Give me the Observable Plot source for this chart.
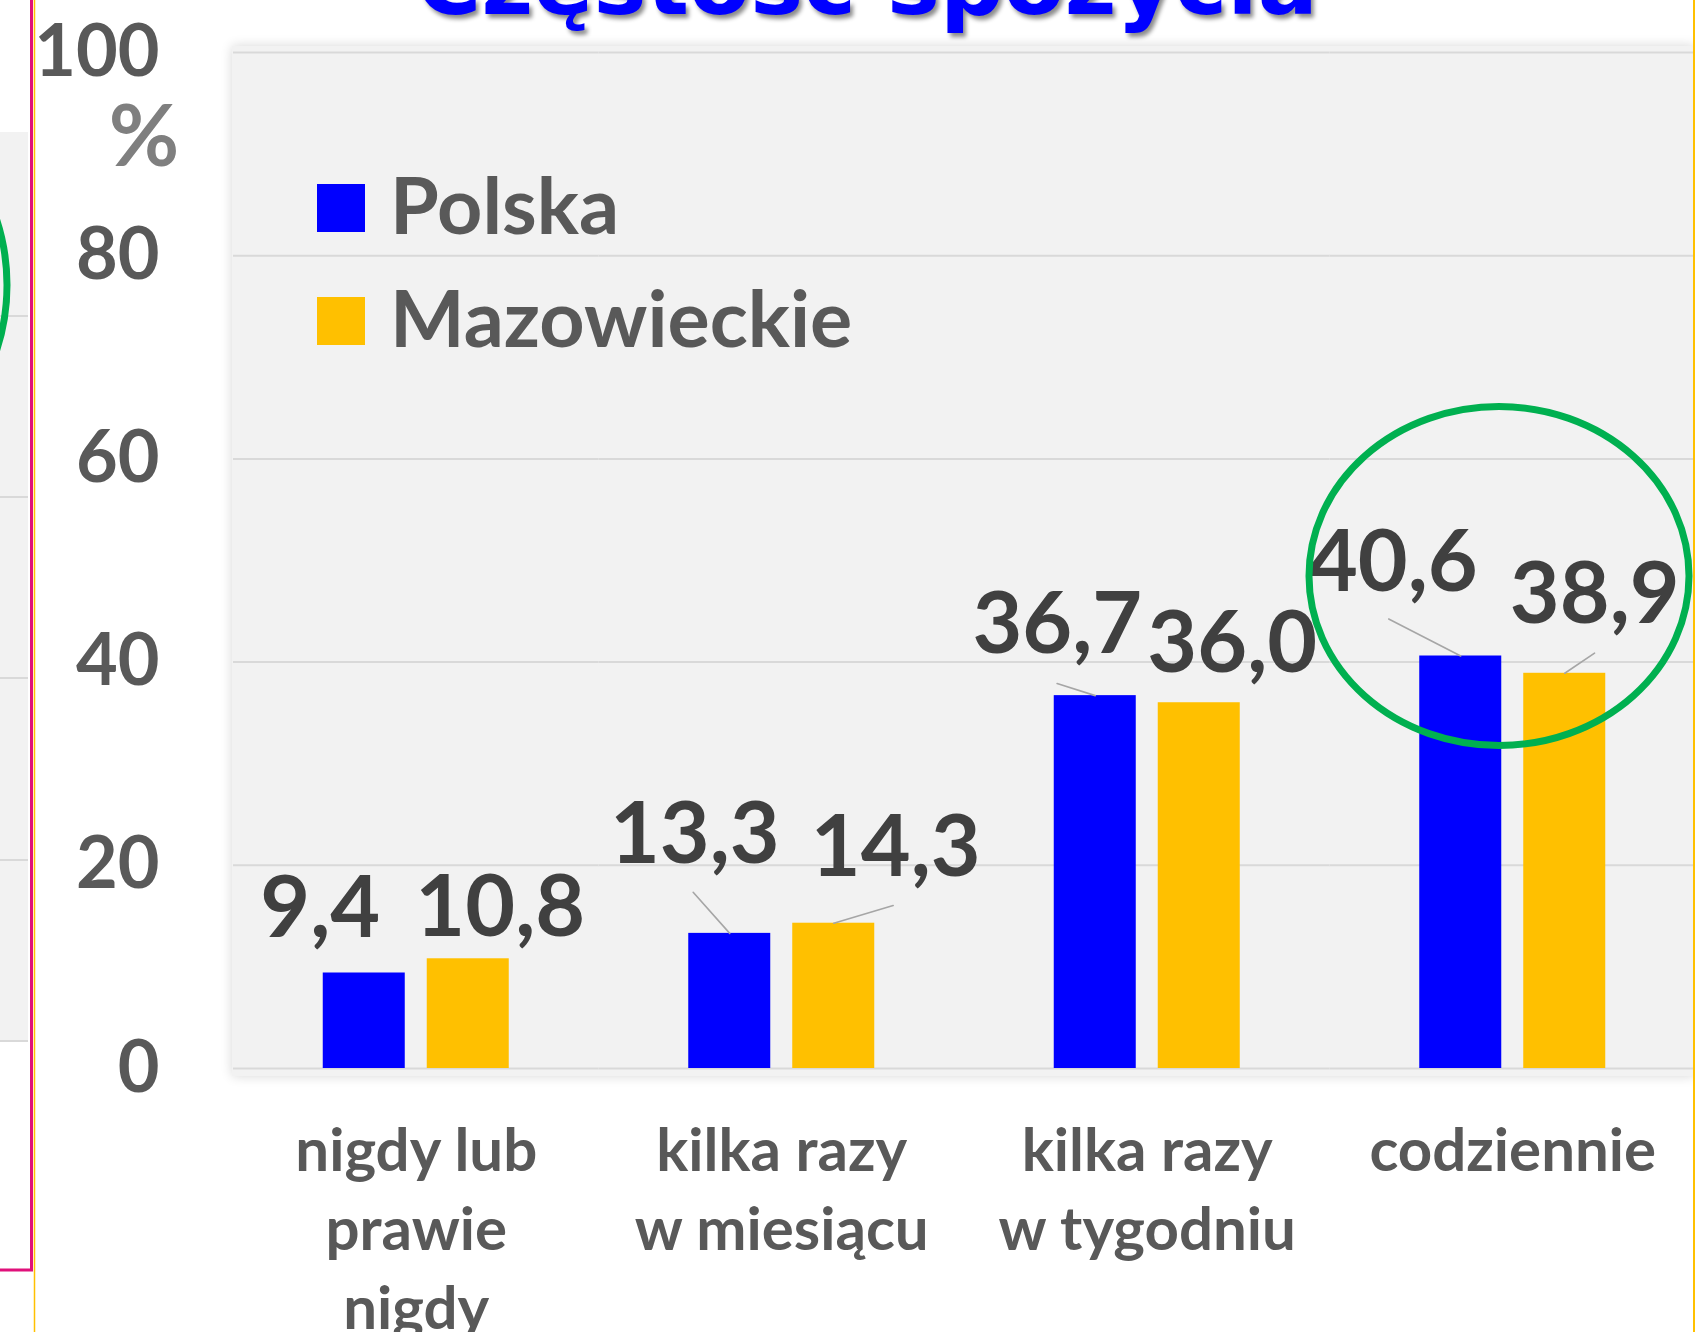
<!DOCTYPE html>
<html>
<head>
<meta charset="utf-8">
<script src="https://cdn.jsdelivr.net/npm/d3@7"></script>
<script src="https://cdn.jsdelivr.net/npm/@observablehq/plot@0.6"></script>
<style>
  html, body { margin: 0; padding: 0; background: #ffffff; }
  body { width: 1695px; height: 1332px; overflow: hidden; position: relative; font-family: Lato, "Open Sans", sans-serif; }
  #panel { position: absolute; left: 232px; top: 46px; width: 1463px; height: 1030px; background: #f2f2f2; box-shadow: 0 0 11px rgba(0,0,0,0.16); }
  #chart { position: absolute; left: 0; top: 0; }
  #overlay { position: absolute; left: 0; top: 0; pointer-events: none; }
</style>
</head>
<body>
<div id="panel"></div>
<div id="chart"></div>
<svg id="overlay" width="1695" height="1332" xmlns="http://www.w3.org/2000/svg"></svg>
<script>
// ---------- data ----------
const categories = ["nigdy lub prawie nigdy", "kilka razy w miesiącu", "kilka razy w tygodniu", "codziennie"];
const categoryLabels = ["nigdy lub\nprawie\nnigdy", "kilka razy\nw miesiącu", "kilka razy\nw tygodniu", "codziennie"];
const series = ["Polska", "Mazowieckie"];
const polska = [9.4, 13.3, 36.7, 40.6];
const mazowieckie = [10.8, 14.3, 36.0, 38.9];
const yTicks = [0, 20, 40, 60, 80, 100];
const title = "Częstość spożycia";
const unitLabel = "%";

// ---------- styling ----------
const seriesColors = ["#0000FF", "#FFC000"];

const rows = categories.flatMap((c, i) => [
  {category: c, series: series[0], value: polska[i]},
  {category: c, series: series[1], value: mazowieckie[i]}
]);

const fmt = v => d3.format(".1f")(v).replace(".", ",");

// manual label placement (pixel nudges, like Excel's dragged data labels)
const labelNudge = [[-44, -64], [32, -50], [-35, -98], [62, -75], [-38, -70], [33, -58], [-68, -93], [30, -78]];
// leader lines: [row index, length px, rotation deg]
const leaderSpec = [[2, 55, -41.7], [3, 62, 73.4], [4, 40, -72.5], [6, 81, -62.8], [7, 36, 55.9]];
const lineShape = {draw(context, l) { context.moveTo(0, 0); context.lineTo(0, -l); }};

const labelMarks = rows.map((d, i) => Plot.text([d], {
  fx: "category", x: "series", y: "value",
  text: r => fmt(r.value),
  dx: labelNudge[i][0], dy: labelNudge[i][1],
  fontSize: 86, fontWeight: 700, fill: "#404040",
  fontFamily: "Lato, sans-serif"
}));

const leaderMarks = leaderSpec.map(([i, len, rot]) => Plot.vector([rows[i]], {
  fx: "category", x: "series", y: "value",
  length: len, rotate: rot, anchor: "start", shape: lineShape,
  stroke: "#a6a6a6", strokeWidth: 1.6
}));

const chart = Plot.plot({
  width: 1695, height: 1332,
  marginLeft: 233, marginRight: 0, marginTop: 52, marginBottom: 264,
  style: {background: "transparent", fontFamily: "Lato, sans-serif", fontWeight: 700, overflow: "visible"},
  fx: {domain: categories, padding: 0, round: false, label: null},
  x: {domain: series, paddingInner: 0.2115, paddingOuter: 0.863, round: false, axis: null},
  y: {domain: [0, 100], label: null},
  color: {domain: series, range: seriesColors},
  marks: [
    Plot.gridY(yTicks, {stroke: "#d9d9d9", strokeOpacity: 1, strokeWidth: 2}),
    Plot.axisY(yTicks, {anchor: "left", tickSize: 0, tickPadding: 74, fontSize: 72, fill: "#595959", label: null, tickFormat: d => String(d)}),
    Plot.axisFx({anchor: "bottom", tickSize: 0, tickPadding: 47, fontSize: 60, lineHeight: 1.31, fill: "#595959", label: null,
      tickFormat: d => categoryLabels[categories.indexOf(d)]}),
    Plot.barY(rows, {fx: "category", x: "series", y: "value", fill: "series"}),
    ...leaderMarks,
    ...labelMarks
  ]
});
document.getElementById("chart").appendChild(chart);

// ---------- overlay: title, legend, unit, annotation, slide edges ----------
const ov = d3.select("#overlay");
// left: edge of previous slide panel
ov.append("rect").attr("x", 0).attr("y", 132).attr("width", 28).attr("height", 909).attr("fill", "#f2f2f2");
[316, 497, 678, 860, 1041].forEach(y => ov.append("line").attr("x1", 0).attr("x2", 28).attr("y1", y).attr("y2", y).attr("stroke", "#d9d9d9").attr("stroke-width", 2));
ov.append("ellipse").attr("cx", -172).attr("cy", 285).attr("rx", 179).attr("ry", 195).attr("fill", "none").attr("stroke", "#00B050").attr("stroke-width", 7);
ov.append("path").attr("d", "M31.5,0 V1270 H0").attr("fill", "none").attr("stroke", "#E0107A").attr("stroke-width", 3);
ov.append("line").attr("x1", 34.5).attr("x2", 34.5).attr("y1", 0).attr("y2", 1332).attr("stroke", "#FFC000").attr("stroke-width", 1.5);
ov.append("line").attr("x1", 1694).attr("x2", 1694).attr("y1", 0).attr("y2", 1332).attr("stroke", "#FFC000").attr("stroke-width", 2);

// title (cut off at top, as in the slide)
ov.append("text").attr("x", 867).attr("y", 14).attr("text-anchor", "middle")
  .attr("font-family", "DejaVu Sans, sans-serif").attr("font-weight", 700).attr("font-size", 89)
  .attr("fill", "#0000FF").style("filter", "drop-shadow(3px 4px 2px rgba(0,0,0,0.45))").text(title);

// unit label
ov.append("text").attr("x", 144).attr("y", 166).attr("text-anchor", "middle")
  .attr("font-family", "Lato, sans-serif").attr("font-weight", 700).attr("font-size", 86)
  .attr("fill", "#7f7f7f").text(unitLabel);

// legend
series.forEach((s, i) => {
  const y0 = 184 + i * 113;
  ov.append("rect").attr("x", 317).attr("y", y0).attr("width", 48).attr("height", 48).attr("fill", seriesColors[i]);
  ov.append("text").attr("x", 390).attr("y", y0 + 50).attr("font-family", "Lato, sans-serif").attr("font-weight", 700)
    .attr("font-size", 79).attr("fill", "#595959").text(s);
});

// highlight around "codziennie"
ov.append("ellipse").attr("cx", 1499).attr("cy", 576).attr("rx", 190).attr("ry", 169.5)
  .attr("fill", "none").attr("stroke", "#00B050").attr("stroke-width", 7);
</script>
</body>
</html>
